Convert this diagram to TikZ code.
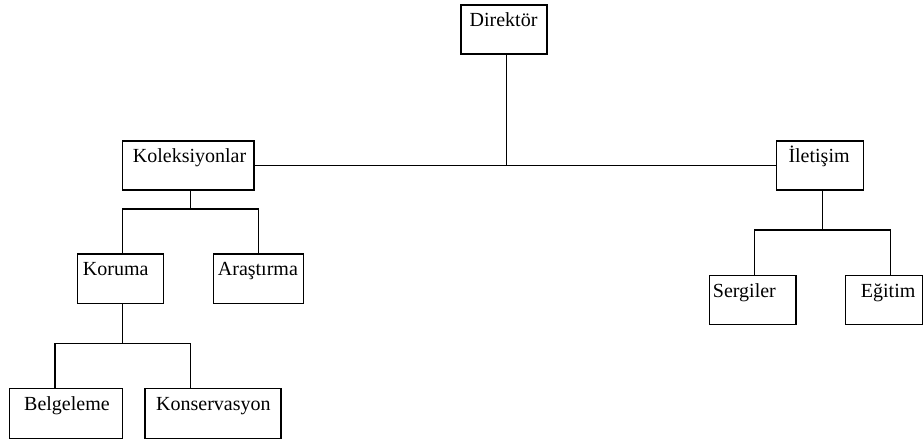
\documentclass[tikz,border=0pt]{standalone}
\usepackage{fontspec}
\setmainfont{Liberation Serif}
\begin{document}
\begin{tikzpicture}[x=1pt,y=-1pt,
  box/.style={draw,line width=1.3pt,inner sep=0pt,outer sep=0pt,anchor=north west},
  lbl/.style={inner sep=0pt,anchor=base west,font=\fontsize{20}{24}\selectfont},
  conn/.style={line width=1.3pt}]
\useasboundingbox (0,0) rectangle (923,443);
% boxes
\node[box,minimum width=86pt,minimum height=49pt] (dir) at (461,5) {};
\node[box,minimum width=131.3pt,minimum height=49pt] (kol) at (122.7,141) {};
\node[box,minimum width=86.6pt,minimum height=49pt] (ilet) at (776.7,141) {};
\node[box,minimum width=85.6pt,minimum height=49.3pt] (kor) at (77.7,254) {};
\node[box,minimum width=90pt,minimum height=49.3pt] (ara) at (213.3,254) {};
\node[box,minimum width=113pt,minimum height=49.6pt] (bel) at (9.7,388.7) {};
\node[box,minimum width=136pt,minimum height=49.6pt] (kon) at (145,388.7) {};
\node[box,minimum width=86.7pt,minimum height=48.5pt] (ser) at (709.3,275.7) {};
\node[box,minimum width=77pt,minimum height=48.5pt] (egi) at (845.7,275.7) {};
% labels
\node[lbl] (dirt) at ([shift={(8.5,22)}]dir.north west) {Direktör};
\node[lbl] (kolt) at ([shift={(10,22)}]kol.north west) {Koleksiyonlar};
\node[lbl] (iltt) at ([shift={(11.6,22)}]ilet.north west) {İletişim};
\node[lbl] (kort) at ([shift={(5,22)}]kor.north west) {Koruma};
\node[lbl] (arat) at ([shift={(4.4,22)}]ara.north west) {Araştırma};
\node[lbl] (belt) at ([shift={(14.3,22)}]bel.north west) {Belgeleme};
\node[lbl] (kont) at ([shift={(11,22)}]kon.north west) {Konservasyon};
\node[lbl] (sert) at ([shift={(3.4,22)}]ser.north west) {Sergiler};
\node[lbl] (egit) at ([shift={(15,22)}]egi.north west) {Eğitim};
% connectors
\draw[conn] (kol.east) -- (ilet.west);
\draw[conn] ([xshift=2.7pt]dir.south) -- ([xshift=2.7pt]dir.south |- kol.east);
\draw[conn] ([xshift=2.4pt]kol.south) -- ++(0,19) coordinate (kb);
\draw[conn] ([xshift=2.2pt]kor.north) |- (kb) -| (ara.north);
\draw[conn] ([xshift=2.2pt]kor.south) -- ++(0,40) coordinate (rb);
\draw[conn] ([xshift=-11.2pt]bel.north) |- (rb) -| ([xshift=-22.3pt]kon.north);
\draw[conn] ([xshift=2.7pt]ilet.south) -- ++(0,40) coordinate (ib);
\draw[conn] ([xshift=1.6pt]ser.north) |- (ib) -| ([xshift=6pt]egi.north);
\end{tikzpicture}
\end{document}
